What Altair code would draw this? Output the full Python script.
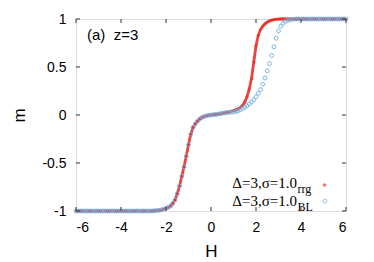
import altair as alt
import pandas as pd

# sampling grid of the field H
H = [round(-6 + 0.1 * i, 1) for i in range(121)]

# magnetisation, rrg (dense red crosses)
m_rrg = ([-1.0] * 35 +
         [-0.997, -0.995, -0.992, -0.988, -0.982, -0.972, -0.962, -0.948, -0.922, -0.885,
          -0.82, -0.74, -0.64, -0.54, -0.43, -0.31, -0.20, -0.13, -0.092, -0.064,
          -0.042, -0.026, -0.015, -0.008, -0.003, 0.0] +
         [0.003, 0.006, 0.009, 0.013, 0.018, 0.023, 0.028, 0.033, 0.038, 0.045,
          0.053, 0.063, 0.076, 0.098, 0.135, 0.19, 0.27, 0.38, 0.55, 0.72,
          0.83, 0.89, 0.925, 0.95, 0.968, 0.98, 0.988, 0.994, 0.997, 0.999] +
         [1.0] * 30)

# magnetisation, BL (blue open circles)
m_bl = (m_rrg[:66] +
        [0.022, 0.025, 0.027, 0.029, 0.031, 0.035, 0.043, 0.053, 0.067, 0.082,
         0.097, 0.115, 0.135, 0.16, 0.19, 0.225, 0.265, 0.32, 0.385, 0.46,
         0.535, 0.62, 0.71, 0.80, 0.875, 0.925, 0.955, 0.975, 0.986, 0.993,
         0.997, 0.999] +
        [1.0] * 23)

x_ticks = [-6, -4, -2, 0, 2, 4, 6]
y_ticks = [-1, -0.5, 0, 0.5, 1]
legend_main = ["Δ=3,σ=1.0", "Δ=3,σ=1.0"]
legend_sub = ["rrg", "BL"]
panel_label = "(a)\u00a0\u00a0z=3"

W, Hgt = 270, 192
RED = "#e8231b"
BLUE = "#74b1e0"

df_rrg = pd.DataFrame({"H": H, "m": m_rrg})
df_bl = pd.DataFrame({"H": H, "m": m_bl})

xs = alt.Scale(domain=[-6, 6], nice=False, zero=False)
ys = alt.Scale(domain=[-1, 1], nice=False, zero=False)

xaxis = alt.Axis(values=x_ticks, labelExpr="toString(datum.value)", grid=False, ticks=False,
                 domain=False, labelPadding=9, labelFont="Liberation Sans", labelFontSize=14,
                 labelColor="black", title="H", titleFont="Liberation Sans", titleFontSize=17,
                 titleFontWeight="normal", titleColor="black", titleBaseline="alphabetic",
                 titleY=45)
yaxis = alt.Axis(values=y_ticks, labelExpr="toString(datum.value)", grid=False, ticks=False,
                 domain=False, labelPadding=10, labelFont="Liberation Sans", labelFontSize=14,
                 labelColor="black", title="m", titleFont="Liberation Sans", titleFontSize=17,
                 titleFontWeight="normal", titleColor="black", titleBaseline="alphabetic",
                 titleAngle=-90, titleX=-52, titleY=Hgt / 2)

red = alt.Chart(df_rrg).mark_line(color=RED, strokeWidth=2.8, opacity=0.85).encode(
    x=alt.X("H:Q", scale=xs, axis=xaxis),
    y=alt.Y("m:Q", scale=ys, axis=yaxis),
)
red_pts = alt.Chart(df_rrg).mark_point(shape="cross", filled=True, size=10, color=RED, opacity=0.6).encode(
    x=alt.X("H:Q", scale=xs), y=alt.Y("m:Q", scale=ys))
blue = alt.Chart(df_bl).mark_point(shape="circle", filled=False, size=15, strokeWidth=1,
                                   color=BLUE, opacity=0.9).encode(
    x=alt.X("H:Q", scale=xs), y=alt.Y("m:Q", scale=ys))

tx = pd.DataFrame({"t": x_ticks})
ty = pd.DataFrame({"t": y_ticks})
tick_style = dict(color="#333", strokeWidth=1)
tb = alt.Chart(tx).mark_rule(**tick_style).encode(x=alt.X("t:Q", scale=xs), y=alt.value(Hgt), y2=alt.value(Hgt - 4))
tt = alt.Chart(tx).mark_rule(**tick_style).encode(x=alt.X("t:Q", scale=xs), y=alt.value(0), y2=alt.value(4))
tl = alt.Chart(ty).mark_rule(**tick_style).encode(y=alt.Y("t:Q", scale=ys), x=alt.value(0), x2=alt.value(4))
tr = alt.Chart(ty).mark_rule(**tick_style).encode(y=alt.Y("t:Q", scale=ys), x=alt.value(W), x2=alt.value(W - 4))

lab = alt.Chart(pd.DataFrame({"t": [panel_label]})).mark_text(
    font="Liberation Sans", fontSize=15, align="left", baseline="alphabetic", color="black"
).encode(text="t:N", x=alt.value(11), y=alt.value(21))

leg1 = alt.Chart(pd.DataFrame({"t": [legend_main[0]]})).mark_text(
    font="Liberation Serif", fontSize=15, align="right", baseline="alphabetic", color="black"
).encode(text="t:N", x=alt.value(221), y=alt.value(169))
leg1s = alt.Chart(pd.DataFrame({"t": [legend_sub[0]]})).mark_text(
    font="Liberation Serif", fontSize=12, align="left", baseline="alphabetic", color="black"
).encode(text="t:N", x=alt.value(221.5), y=alt.value(173.5))
leg2 = alt.Chart(pd.DataFrame({"t": [legend_main[1]]})).mark_text(
    font="Liberation Serif", fontSize=15, align="right", baseline="alphabetic", color="black"
).encode(text="t:N", x=alt.value(221), y=alt.value(186.5))
leg2s = alt.Chart(pd.DataFrame({"t": [legend_sub[1]]})).mark_text(
    font="Liberation Serif", fontSize=12, align="left", baseline="alphabetic", color="black"
).encode(text="t:N", x=alt.value(221.5), y=alt.value(191.5))
leg1m = alt.Chart(pd.DataFrame({"t": [0]})).mark_point(shape="cross", filled=True, size=12, color=RED).encode(
    x=alt.value(248.5), y=alt.value(166))
leg2m = alt.Chart(pd.DataFrame({"t": [0]})).mark_point(shape="circle", filled=False, size=15, strokeWidth=1,
                                                       color=BLUE).encode(x=alt.value(249), y=alt.value(182))

chart = alt.layer(red, red_pts, blue, tb, tt, tl, tr, lab, leg1, leg1s, leg2, leg2s, leg1m, leg2m).properties(
    width=W, height=Hgt,
    autosize=alt.AutoSizeParams(type="none"),
    padding={"left": 68, "top": 11, "right": 20, "bottom": 54},
).configure_view(stroke="#333", strokeWidth=1).configure(background="white")

chart.save("out.html", embed_options={"renderer": "svg", "actions": False})
